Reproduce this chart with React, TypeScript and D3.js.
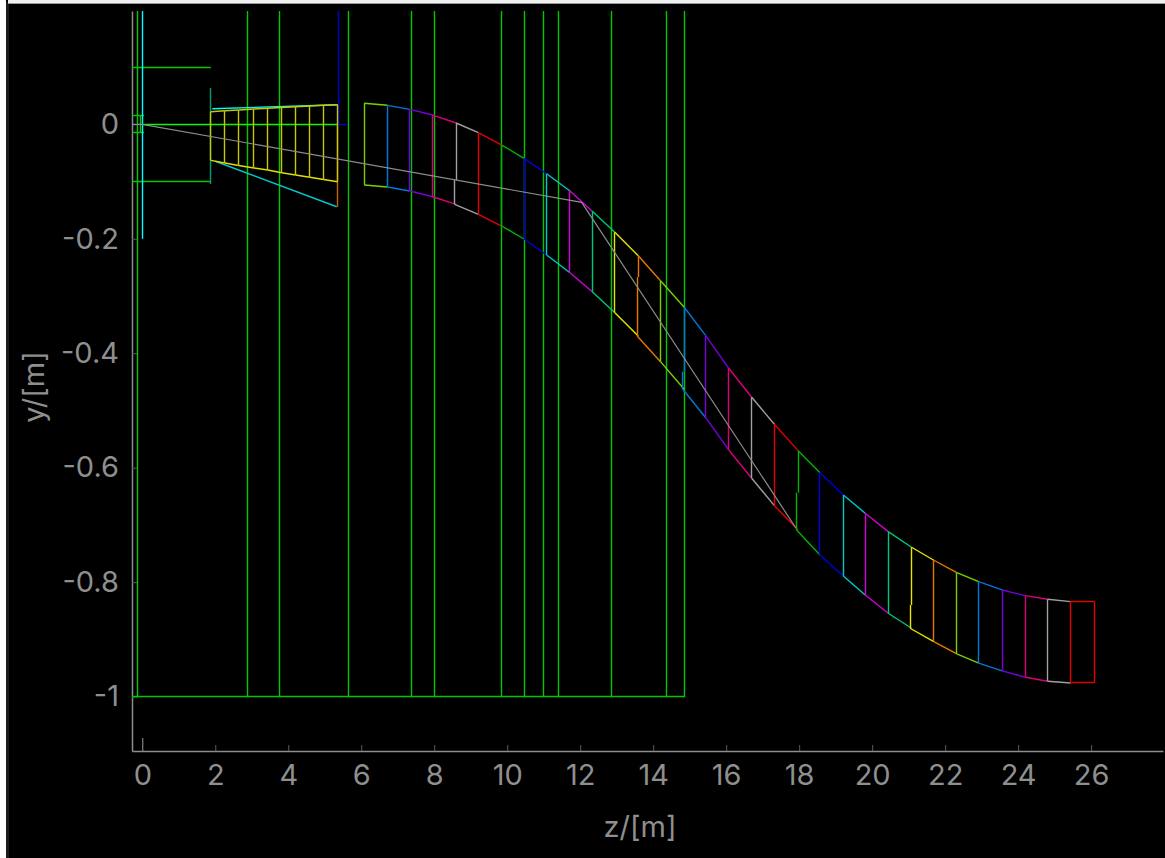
import { useEffect, useRef } from 'react'
import * as d3 from 'd3'

const W = 1165
const H = 858

// beam envelope after the first gap, one entry per divider
const zEdges = [6.08, 6.72, 7.33, 7.96, 8.6, 9.21, 9.85, 10.46, 11.08, 11.72, 12.33, 12.95, 13.59, 14.2, 14.85, 15.44, 16.07, 16.7, 17.32, 17.97, 18.57, 19.21, 19.81, 20.44, 21.08, 21.69, 22.32, 22.92, 23.56, 24.2, 24.81, 25.44, 26.09]
const yUpper = [0.0367, 0.0332, 0.0262, 0.0162, 0.0023, -0.0147, -0.0362, -0.0594, -0.0863, -0.1165, -0.152, -0.1887, -0.2296, -0.2732, -0.3197, -0.3693, -0.4263, -0.4769, -0.5241, -0.5702, -0.6087, -0.6476, -0.6796, -0.7117, -0.739, -0.7617, -0.7834, -0.7991, -0.8136, -0.8236, -0.8298, -0.834, -0.834]
const yLower = [-0.106, -0.1095, -0.1165, -0.1265, -0.1398, -0.1572, -0.1777, -0.2004, -0.2283, -0.2593, -0.2925, -0.3291, -0.3698, -0.4147, -0.463, -0.5126, -0.569, -0.6184, -0.6663, -0.7088, -0.7524, -0.7891, -0.8223, -0.8543, -0.8805, -0.9039, -0.9254, -0.9416, -0.9551, -0.9661, -0.9731, -0.9761, -0.9761]

// dividers with a small sideways step: [divider index, z below the step, y of the step]
const steppedEdges = [
  [4, 8.56, -0.0973],
  [12, 13.56, -0.2668],
  [14, 14.81, -0.4322],
  [19, 17.93, -0.6436],
  [24, 21.04, -0.8398],
]

// yellow wedge before the gap
const zWedge = [1.88, 2.26, 2.64, 3.06, 3.44, 3.82, 4.2, 4.59, 4.97, 5.35]
const yWedgeUpper = [0.022, 0.0238, 0.025, 0.0267, 0.028, 0.0293, 0.0307, 0.032, 0.0332, 0.0342]
const yWedgeLower = [-0.0629, -0.0676, -0.072, -0.0763, -0.0798, -0.0846, -0.0886, -0.0926, -0.0964, -0.1003]

const zWallLines = [2.87, 3.76, 5.64, 7.38, 8.02, 9.85, 10.48, 10.99, 11.41, 12.87, 14.37, 14.87]
const zCentre = [-0.28, 0, 12.04, 17.91]
const yCentre = [0, 0, -0.1363, -0.7053]

const zTicks = d3.range(0, 27, 2)
const yTicks = [0, -0.2, -0.4, -0.6, -0.8, -1]

const palette = ['#e60000', '#00b400', '#0000dc', '#00c8c8', '#d200d2', '#00c878', '#e6e600', '#e67800', '#78d200', '#0078dc', '#7800dc', '#dc0078', '#a0a0a0']
const GREEN = '#00c800'
const FONT = 'Inter, sans-serif'
const LABEL = '#8f8f8f'

const x = d3.scaleLinear().domain([-0.282, 27.97]).range([132, 1163])
const y = d3.scaleLinear().domain([0.198, -1.095]).range([11, 751])

// snap straight lines to the pixel grid so they stay sharp
const snap = (v: number) => Math.round(v - 0.5) + 0.5

function Seg({ z1, y1, z2, y2, c, w = 1.4 }: { z1: number; y1: number; z2: number; y2: number; c: string; w?: number }) {
  const vertical = z1 === z2
  const flat = y1 === y2
  const px1 = vertical ? snap(x(z1)) : x(z1)
  const px2 = vertical ? snap(x(z2)) : x(z2)
  const py1 = flat ? snap(y(y1)) : y(y1)
  const py2 = flat ? snap(y(y2)) : y(y2)
  return <line x1={px1} y1={py1} x2={px2} y2={py2} stroke={c} strokeWidth={w} />
}

export default function App() {
  const xAxisRef = useRef<SVGGElement>(null)
  const yAxisRef = useRef<SVGGElement>(null)

  useEffect(() => {
    const styleAxis = (ax: any) => {
      ax.select('.domain').attr('stroke', '#8c8c8c').attr('stroke-width', 1.5)
      ax.selectAll('line').attr('stroke', '#5a5a5a')
      ax.selectAll('text').attr('fill', LABEL).style('font-size', '29px').style('font-family', FONT)
    }

    d3.select(xAxisRef.current!)
      .call(d3.axisBottom(x).tickValues(zTicks).tickSizeInner(-6).tickSizeOuter(0).tickPadding(14).tickFormat(d3.format('d') as any))
      .call(styleAxis)
      .call((ax: any) => {
        ax.selectAll('text').attr('y', 34).attr('dy', 0)
        // the tick at zero is drawn longer
        ax.selectAll('.tick').filter((d: number) => d === 0).select('line').attr('y2', -13).attr('stroke', '#9a9a9a')
      })

    d3.select(yAxisRef.current!)
      .call(d3.axisLeft(y).tickValues(yTicks).tickSizeInner(-6).tickSizeOuter(0).tickPadding(13).tickFormat((d: any) => String(d)))
      .call(styleAxis)
  }, [])

  return (
    <svg width={W} height={H} style={{ position: 'fixed', left: 0, top: 0, display: 'block', background: '#000' }}>
      {/* window edges caught in the screenshot */}
      <rect x={0} y={0} width={6} height={H} fill="#fff" />
      <rect x={6} y={2} width={3} height={H} fill="#1c1c1c" />
      <rect x={8} y={0} width={W} height={3} fill="#f0f0f0" />
      <rect x={8} y={3} width={W} height={1} fill="#9a9a9a" />

      <g ref={xAxisRef} transform="translate(0,751)" />
      <g ref={yAxisRef} transform="translate(132,0)" />

      <g fill="none">
        {/* apertures near the origin */}
        <Seg z1={-0.125} y1={0.198} z2={-0.125} y2={-1} c={GREEN} />
        <Seg z1={-0.282} y1={-1} z2={14.87} y2={-1} c={GREEN} />
        <Seg z1={-0.282} y1={0.1} z2={1.88} y2={0.1} c={GREEN} />
        <Seg z1={-0.282} y1={-0.1} z2={1.88} y2={-0.1} c={GREEN} />
        <Seg z1={-0.282} y1={0.015} z2={0.05} y2={0.015} c={GREEN} />
        <Seg z1={-0.282} y1={-0.014} z2={0.05} y2={-0.014} c={GREEN} />
        <Seg z1={-0.045} y1={0.015} z2={-0.045} y2={-0.014} c={GREEN} />
        <Seg z1={0} y1={0.198} z2={0} y2={-0.2} c="#00ffff" />
        <Seg z1={1.88} y1={0.0634} z2={1.88} y2={-0.1043} c="#00a070" />
        {zWallLines.map((z) => (
          <Seg key={z} z1={z} y1={0.198} z2={z} y2={-1} c={GREEN} />
        ))}

        <Seg z1={1.92} y1={0.0272} z2={5.35} y2={0.0342} c="#00ffff" />
        <Seg z1={2} y1={-0.0645} z2={5.33} y2={-0.144} c="#00c8d0" />
        <Seg z1={5.37} y1={0.198} z2={5.37} y2={0} c="#0000c8" />
        <Seg z1={5.37} y1={0} z2={5.6} y2={0} c="#0000c8" />
        <Seg z1={0} y1={0} z2={5.35} y2={0} c="#00ff00" />
        <Seg z1={5.35} y1={0} z2={5.35} y2={-0.144} c="#c86400" />

        {zWedge.map((z, i) => (
          <g key={z}>
            <Seg z1={z} y1={yWedgeUpper[i]} z2={z} y2={yWedgeLower[i]} c="#c8c800" />
            {i < zWedge.length - 1 && (
              <>
                <Seg z1={z} y1={yWedgeUpper[i]} z2={zWedge[i + 1]} y2={yWedgeUpper[i + 1]} c="#c8c800" />
                <Seg z1={z} y1={yWedgeLower[i]} z2={zWedge[i + 1]} y2={yWedgeLower[i + 1]} c="#e0e000" />
              </>
            )}
          </g>
        ))}

        {zEdges.map((z, i) => {
          const c = i === zEdges.length - 1 ? palette[0] : palette[(i + 8) % palette.length]
          const step = steppedEdges.find((s) => s[0] === i)
          const next = i + 1
          return (
            <g key={z}>
              {step ? (
                <>
                  <Seg z1={z} y1={yUpper[i]} z2={z} y2={step[2]} c={c} />
                  <Seg z1={step[1]} y1={step[2]} z2={step[1]} y2={yLower[i]} c={c} />
                </>
              ) : (
                <Seg z1={z} y1={yUpper[i]} z2={z} y2={yLower[i]} c={c} />
              )}
              {next < zEdges.length && (
                <>
                  <Seg z1={z} y1={yUpper[i]} z2={zEdges[next]} y2={yUpper[next]} c={c} />
                  <Seg z1={step ? step[1] : z} y1={yLower[i]} z2={zEdges[next]} y2={yLower[next]} c={c} />
                </>
              )}
            </g>
          )
        })}

        <path
          d={d3.line<number>().x((z) => x(z)).y((_, i) => y(yCentre[i]))(zCentre) ?? ''}
          stroke="#8c8c8c"
          strokeWidth={1.2}
        />
      </g>

      <text x={640} y={837} textAnchor="middle" fill={LABEL} fontSize={29} fontFamily={FONT}>z/[m]</text>
      <text transform="translate(44,387) rotate(-90)" textAnchor="middle" fill={LABEL} fontSize={29} fontFamily={FONT}>y/[m]</text>
    </svg>
  )
}
